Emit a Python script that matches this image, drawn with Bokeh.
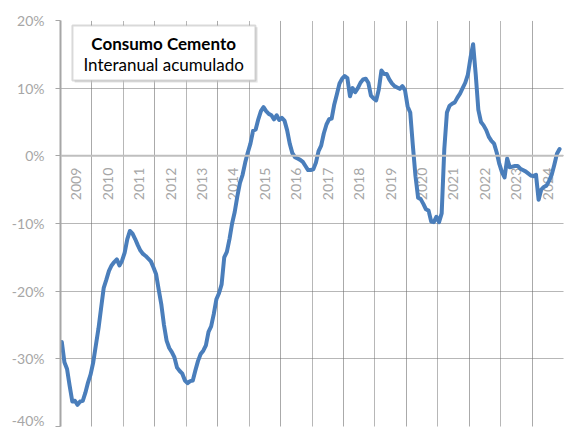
import numpy as np
from bokeh.plotting import figure
from bokeh.models import (Range1d, FixedTicker, PrintfTickFormatter, Grid, Span,
                          BoxAnnotation, Label, ColumnDataSource)
from bokeh.embed import file_html
from bokeh.resources import INLINE
from bokeh.core.properties import value

# ---- data: cement consumption, year-on-year cumulative change (%) ----
years = list(range(2009, 2025))
year_labels = [str(y) for y in years]
v2009 = [-27.5, -30.5, -31.5, -34.0, -36.3, -36.2, -36.8, -36.3, -36.2, -35.0, -33.5, -32.3]
v2010 = [-30.5, -28.0, -25.5, -22.5, -19.5, -18.3, -17.0, -16.2, -15.7, -15.3, -16.2, -15.5]
v2011 = [-14.3, -12.3, -11.1, -11.5, -12.3, -13.2, -14.0, -14.5, -14.8, -15.2, -15.6, -16.5]
v2012 = [-17.5, -19.8, -22.0, -25.0, -27.3, -28.4, -29.0, -29.8, -31.3, -31.8, -32.2, -33.2]
v2013 = [-33.6, -33.3, -33.2, -31.7, -30.3, -29.3, -28.8, -28.0, -26.0, -25.2, -23.4, -21.2]
v2014 = [-20.3, -19.0, -15.0, -14.2, -12.3, -10.0, -8.3, -6.0, -4.0, -2.8, -1.0, 0.5]
v2015 = [1.8, 3.7, 3.9, 5.4, 6.6, 7.2, 6.6, 6.2, 6.0, 5.4, 6.0, 5.3]
v2016 = [5.6, 5.2, 3.8, 1.8, 0.4, -0.2, -0.4, -0.6, -0.9, -1.5, -2.1, -2.1]
v2017 = [-2.0, -1.0, 0.7, 1.5, 3.3, 4.6, 5.4, 5.5, 7.6, 9.1, 10.7, 11.4]
v2018 = [11.8, 11.5, 8.8, 10.0, 9.4, 10.0, 10.8, 11.3, 11.4, 10.8, 8.9, 8.5]
v2019 = [8.2, 9.8, 12.6, 12.1, 12.1, 11.3, 10.7, 10.3, 10.1, 9.9, 10.3, 9.7]
v2020 = [7.3, 6.4, 1.5, -3.0, -6.2, -6.4, -7.1, -7.9, -8.1, -9.7, -9.8, -9.0]
v2021 = [-9.8, -8.5, 1.0, 6.4, 7.4, 7.7, 7.9, 8.6, 9.2, 10.0, 10.8, 12.0]
v2022 = [14.5, 16.5, 12.0, 6.8, 5.0, 4.5, 3.8, 2.8, 2.2, 1.8, 0.5, -1.2]
v2023 = [-2.4, -3.2, -0.4, -1.7, -1.6, -1.5, -1.5, -1.9, -2.1, -2.3, -2.6, -2.9]
v2024 = [-3.0, -2.8, -6.5, -5.0, -4.6, -4.4, -3.7, -2.8, -1.3, 0.3, 1.0]
y_ticks = [-40, -30, -20, -10, 0, 10, 20]

series = [v2009, v2010, v2011, v2012, v2013, v2014, v2015, v2016,
          v2017, v2018, v2019, v2020, v2021, v2022, v2023, v2024]
xs, ys = [], []
for yr, vals in zip(years, series):
    for m, v in enumerate(vals):
        xs.append(yr + (m + 0.5) / 12.0)
        ys.append(v)

GRAY = "#a6a6a6"
GRID = "#6e6e6e"

p = figure(width=571, height=428, output_backend="svg", toolbar_location=None,
           x_range=Range1d(2009, 2025), y_range=Range1d(-40, 20),
           x_axis_location=None, min_border_left=60, min_border_right=8,
           min_border_top=20, min_border_bottom=2)
p.outline_line_color = None
p.background_fill_color = "white"
p.border_fill_color = "white"

# y axis
yt = FixedTicker(ticks=y_ticks)
p.yaxis.ticker = yt
p.yaxis.formatter = PrintfTickFormatter(format="%d%%")
p.yaxis.axis_line_color = GRAY
p.yaxis.axis_line_width = 2
p.yaxis.major_tick_line_color = GRAY
p.yaxis.major_tick_line_width = 1
p.yaxis.major_tick_out = 5
p.yaxis.major_tick_in = 0
p.yaxis.minor_tick_line_color = None
p.yaxis.major_label_standoff = 11
p.yaxis.major_label_text_font = "Lato"
p.yaxis.major_label_text_font_size = "14px"
p.yaxis.major_label_text_color = GRAY

# grids
p.ygrid.ticker = yt
p.ygrid.grid_line_color = GRID
p.ygrid.grid_line_dash = "1 1"
p.ygrid.grid_line_width = 1
xg = Grid(dimension=0, ticker=FixedTicker(ticks=years[1:] + [2025]),
          grid_line_color=GRID, grid_line_dash="1 1", grid_line_width=1)
p.add_layout(xg)

# shadow to the right of the plot area
p.add_layout(BoxAnnotation(left=2025.02, right=2025.12, top=19.3, bottom=-40,
                           fill_color="#cccccc", fill_alpha=1.0, line_color=None))
p.add_layout(BoxAnnotation(left=2025.12, right=2025.22, top=19.0, bottom=-40,
                           fill_color="#e8e8e8", fill_alpha=1.0, line_color=None))

# zero axis line
p.add_layout(Span(location=0, dimension="width", line_color="#bfbfbf", line_width=2))

# year labels (rotated, under the zero line)
lab_src = ColumnDataSource(dict(x=[y + 0.5 for y in years], y=[-1.75] * len(years), t=year_labels))
p.text(x="x", y="y", text="t", source=lab_src, angle=np.pi / 2,
       text_align="right", text_baseline="middle", text_color=GRAY,
       text_font=value("Lato"), text_font_size="14px")

# data line
p.line(xs, ys, line_color="#4a7ebb", line_width=4, line_join="round", line_cap="round")

# title box
p.add_layout(BoxAnnotation(left=2009.45, right=2015.27, top=19.0, bottom=10.85,
                           fill_color="#d0d0d0", fill_alpha=0.6, line_color=None))
p.add_layout(BoxAnnotation(left=2009.38, right=2015.20, top=19.26, bottom=11.14,
                           fill_color="white", fill_alpha=1.0,
                           line_color="#808080", line_width=2))
p.add_layout(Label(x=2012.28, y=16.6, text="Consumo Cemento", text_font="Lato",
                   text_font_style="bold", text_font_size="17px", text_color="black",
                   text_align="center", text_baseline="middle"))
p.add_layout(Label(x=2012.28, y=13.5, text="Interanual acumulado", text_font="Lato",
                   text_font_size="17px", text_color="black",
                   text_align="center", text_baseline="middle"))

open("out.html", "w").write(file_html(p, INLINE))
